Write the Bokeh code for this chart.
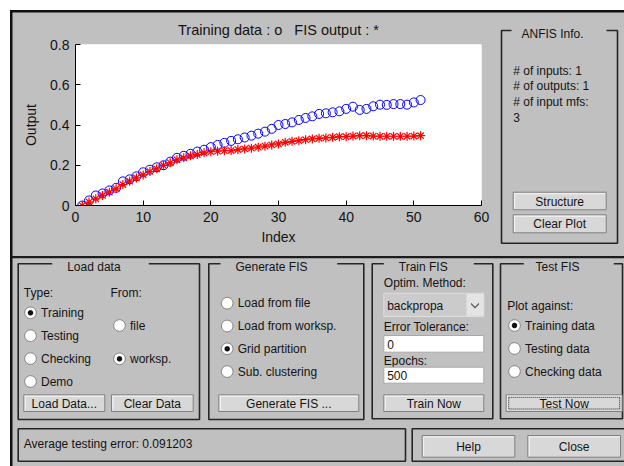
import numpy as np
from bokeh.plotting import figure
from bokeh.models import Range1d, FixedTicker, NumeralTickFormatter
from bokeh.core.properties import value
from bokeh.embed import file_html
from bokeh.resources import INLINE

# ---------------- data ----------------
index = list(range(1, 52))
training_data = [0.0, 0.025, 0.05, 0.06, 0.075, 0.088, 0.12, 0.13, 0.145, 0.165,
                 0.178, 0.19, 0.2, 0.218, 0.237, 0.247, 0.257, 0.268, 0.277, 0.29,
                 0.301, 0.311, 0.321, 0.329, 0.338, 0.347, 0.357, 0.367, 0.381, 0.40,
                 0.405, 0.413, 0.425, 0.435, 0.443, 0.455, 0.458, 0.463, 0.468, 0.48,
                 0.491, 0.475, 0.48, 0.493, 0.501, 0.5, 0.504, 0.504, 0.501, 0.512,
                 0.524]
fis_output = [0.0, 0.017, 0.033, 0.05, 0.066, 0.083, 0.104, 0.121, 0.137, 0.152,
              0.169, 0.182, 0.199, 0.212, 0.227, 0.237, 0.247, 0.253, 0.262, 0.267,
              0.27, 0.272, 0.273, 0.278, 0.281, 0.285, 0.29, 0.295, 0.301, 0.306,
              0.314, 0.319, 0.322, 0.327, 0.331, 0.334, 0.336, 0.339, 0.342, 0.342,
              0.345, 0.347, 0.347, 0.345, 0.344, 0.344, 0.344, 0.344, 0.344, 0.345,
              0.347]
x_ticks = [0, 10, 20, 30, 40, 50, 60]
y_ticks = [0, 0.2, 0.4, 0.6, 0.8]
title_text = "Training data : o\u00a0\u00a0\u00a0FIS output : *"

info_lines = ["# of inputs: 1", "# of outputs: 1", "# of input mfs:", "3"]
load_types = ["Training", "Testing", "Checking", "Demo"]
load_from = ["file", "worksp."]
gen_options = ["Load from file", "Load from worksp.", "Grid partition", "Sub. clustering"]
test_options = ["Training data", "Testing data", "Checking data"]
status_text = "Average testing error: 0.091203"

GRAY = "#c0c0c0"
FONT = "Liberation Sans"
INK = "#141414"
PANEL = "#262626"

p = figure(width=624, height=466, x_range=Range1d(0, 60), y_range=Range1d(0, 0.8),
           output_backend="svg", toolbar_location=None,
           min_border_left=75, min_border_right=143, min_border_top=44,
           min_border_bottom=261, title=title_text)
p.background_fill_color = "white"
p.border_fill_color = GRAY
p.outline_line_color = None
p.grid.visible = False

p.title.align = "center"
p.title.text_font = FONT
p.title.text_font_size = "14.5px"
p.title.text_font_style = "normal"
p.title.text_color = INK
p.title.standoff = 13

for ax in (p.xaxis[0], p.yaxis[0]):
    ax.axis_line_color = "black"
    ax.major_tick_line_color = "black"
    ax.major_tick_in = 5
    ax.major_tick_out = 0
    ax.minor_tick_line_color = None
    ax.major_label_text_font = FONT
    ax.major_label_text_font_size = "14px"
    ax.major_label_text_color = INK
    ax.axis_label_text_font = FONT
    ax.axis_label_text_font_size = "14px"
    ax.axis_label_text_font_style = "normal"
    ax.axis_label_text_color = INK
    ax.major_label_standoff = 6

p.xaxis[0].ticker = FixedTicker(ticks=x_ticks)
p.yaxis[0].ticker = FixedTicker(ticks=y_ticks)
p.yaxis[0].formatter = NumeralTickFormatter(format="0.[0]")
p.xaxis[0].axis_label = "Index"
p.yaxis[0].axis_label = "Output"
p.xaxis[0].axis_label_standoff = 4
p.yaxis[0].axis_label_standoff = 8

p.scatter(index, training_data, marker="circle", size=9, fill_color=None,
          line_color="#0000ff", line_width=1)
p.scatter(index, fis_output, marker="asterisk", size=9, line_color="#ff0000",
          line_width=1.2)

# pixel coordinate system (reference pixels) for the surrounding GUI
p.extra_x_ranges = {"px": Range1d(75, 481)}
p.extra_y_ranges = {"py": Range1d(205, 44)}
G = dict(x_range_name="px", y_range_name="py", level="overlay")


def rect(l, t, r, b, fill=None, line=None, lw=1.0, dash="solid"):
    p.quad(left=[l], right=[r], top=[t], bottom=[b],
           fill_color=fill if fill else "white", fill_alpha=1.0 if fill else 0.0,
           line_color=line if line else "black", line_alpha=1.0 if line else 0.0,
           line_width=lw, line_dash=dash, **G)


def text(x, y, s, size="12px", align="left", color=INK):
    p.text(x=[x], y=[y], text=[s], text_font=value(FONT), text_font_size=value(size),
           text_align=align, text_baseline="middle", text_color=color, **G)


def disc(cx, cy, r, fill, line=None, lw=1.0):
    t = np.linspace(0, 2 * np.pi, 41)[:-1]
    p.patch(list(cx + r * np.cos(t)), list(cy + r * np.sin(t)), fill_color=fill,
            line_color=line if line else fill, line_alpha=1.0 if line else 0.0,
            line_width=lw, **G)


def radio(cx, cy, label, selected=False):
    disc(cx, cy, 5.8, "white", "#7c7c7c")
    if selected:
        disc(cx, cy, 2.7, "#111111")
    text(cx + 10.5, cy, label)


def button(l, t, r, b, label, focus=False):
    rect(l, t, r, b, fill="#d8d8d8", line="#808080")
    rect(l + 1, t + 1, r - 1, t + 2, fill="#f6f6f6")
    rect(l + 1, t + 1, l + 2, b - 1, fill="#f6f6f6")
    if focus:
        rect(l + 2.5, t + 2.5, r - 2.5, b - 2.5, line="#222222", dash="1 1")
    text((l + r) / 2, (t + b) / 2 + 0.5, label, align="center")


def panel(l, t, r, b, title, tx, gap):
    rect(l, t, r, b, line=PANEL, lw=1.6)
    rect(gap[0], t - 3, gap[1], t + 3, fill=GRAY)
    text(tx, t + 3.5, title)


# window frame
rect(-2, -2, 9.5, 470, fill="white")
rect(-2, -2, 630, 9.5, fill="white")
rect(9.5, 9.5, 12, 470, fill="#111111")
rect(9.5, 9.5, 630, 12, fill="#111111")
rect(11, 255.5, 630, 257.8, fill="#1c1c1c")

# ANFIS Info panel
panel(501, 30, 617, 242.7, "ANFIS Info.", 521, (511, 606))
for i, s in enumerate(info_lines):
    text(512.7, 70 + i * 15.8, s)
button(512.7, 191.7, 605.7, 209.3, "Structure")
button(512.7, 214.3, 605.7, 232.3, "Clear Plot")

# Load data panel
panel(17.7, 263.3, 199, 419, "Load data", 66.7, (51.7, 148.3))
text(23.3, 292, "Type:")
text(110, 292, "From:")
for i, s in enumerate(load_types):
    radio(30, 312.3 + i * 22.9, s, selected=(i == 0))
radio(119, 325, load_from[0])
radio(119, 358.3, load_from[1], selected=True)
button(23.3, 394.3, 104.3, 411, "Load Data...")
button(111, 394.3, 192.7, 411, "Clear Data")

# Generate FIS panel
panel(208.3, 263.3, 363.3, 419, "Generate FIS", 235, (220, 336.7))
for i, s in enumerate(gen_options):
    radio(226.7, 302.7 + i * 22.8, s, selected=(i == 2))
button(218.3, 394.3, 358.3, 411, "Generate FIS ...")

# Train FIS panel
panel(371.7, 263.3, 492.3, 418.3, "Train FIS", 398.3, (383.3, 473.3))
text(383.3, 282.3, "Optim. Method:")
rect(383.3, 292.7, 483.3, 316, fill="#cbcbcb", line="#dedede")
rect(466, 293.5, 483, 315.2, fill="#e4e4e4")
text(386.7, 305, "backpropa")
p.patch([470.5, 474.5, 478.5, 478.5, 474.5, 470.5],
        [302.2, 306.2, 302.2, 304.0, 308.0, 304.0], fill_color="#555555",
        line_color=None, **G)
text(383.3, 326, "Error Tolerance:")
rect(383.3, 335, 483.3, 351.7, fill="white", line="#a8a8a8")
text(386.7, 343.5, "0")
text(383.3, 360, "Epochs:")
rect(383.3, 366.7, 483.3, 382.7, fill="white", line="#a8a8a8")
text(386.7, 375.2, "500")
button(383.3, 394.3, 483.3, 411, "Train Now")

# Test FIS panel
panel(500, 263.3, 622, 418.3, "Test FIS", 535, (523.3, 613.3))
text(506.7, 305, "Plot against:")
for i, s in enumerate(test_options):
    radio(514, 325 + i * 23, s, selected=(i == 0))
button(505.7, 394.3, 621.7, 411, "Test Now", focus=True)

# status and bottom buttons
rect(17.7, 428.3, 405, 460.7, line=PANEL, lw=1.6)
text(23.3, 443.3, status_text)
rect(411.7, 428.3, 640, 460.7, line=PANEL, lw=1.6)
button(421.7, 435, 514.3, 456.7, "Help")
button(527.3, 435, 620, 456.7, "Close")

open("out.html", "w").write(file_html(p, INLINE))
